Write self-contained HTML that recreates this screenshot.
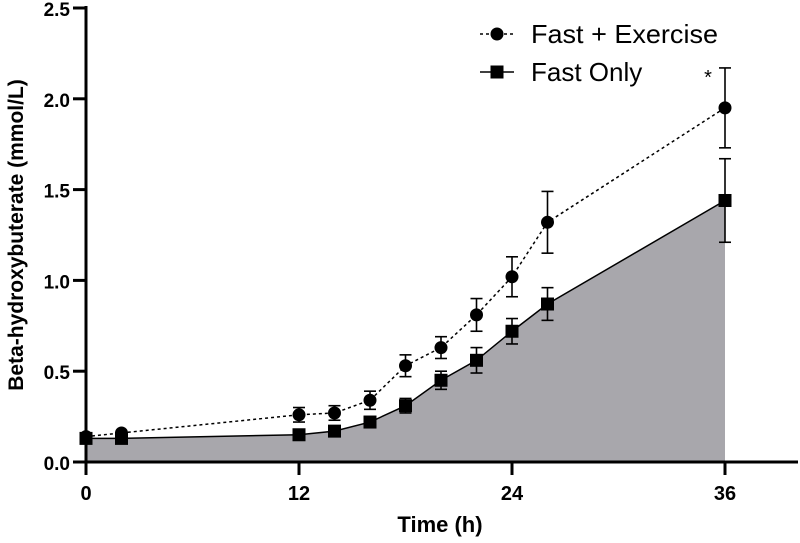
<!DOCTYPE html>
<html><head><meta charset="utf-8"><style>
body{margin:0;background:#fff;}
svg{display:block;font-family:"Liberation Sans",sans-serif;}
</style></head><body>
<svg id="chart" width="800" height="543" viewBox="0 0 800 543" xmlns="http://www.w3.org/2000/svg">
<g id="plot"></g>
</svg>
<script>
const times=[0,2,12,14,16,18,20,22,24,26,36];
const exerciseMean=[0.14,0.16,0.26,0.27,0.34,0.53,0.63,0.81,1.02,1.32,1.95];
const exerciseErr=[0.02,0.02,0.04,0.04,0.05,0.06,0.06,0.09,0.11,0.17,0.22];
const fastMean=[0.13,0.13,0.15,0.17,0.22,0.31,0.45,0.56,0.72,0.87,1.44];
const fastErr=[0.01,0.01,0.02,0.02,0.03,0.04,0.05,0.07,0.07,0.09,0.23];
const xTicks=[0,12,24,36];
const yTicks=[0,0.5,1.0,1.5,2.0,2.5];
const yTickLabels=["0.0","0.5","1.0","1.5","2.0","2.5"];

const NS="http://www.w3.org/2000/svg";
const g=document.getElementById('plot');
const X=t=>86+t*(725-86)/36;
const Y=v=>462-v*(462-8)/2.5;
function mk(tag,attrs,parent){const e=document.createElementNS(NS,tag);for(const k in attrs)e.setAttribute(k,attrs[k]);(parent||g).appendChild(e);return e;}

let d='M'+X(times[0])+','+Y(0);
times.forEach((t,i)=>d+=' L'+X(t)+','+Y(fastMean[i]));
d+=' L'+X(times[times.length-1])+','+Y(0)+' Z';
const area=mk('path',{d:d,fill:'#a8a7ac'});



const ya=mk('line',{x1:86,y1:6,x2:86,y2:464,stroke:'#000','stroke-width':3});


const xa=mk('line',{x1:84,y1:462,x2:798,y2:462,stroke:'#000','stroke-width':3});


yTicks.forEach((v,i)=>{
  mk('line',{x1:73,y1:Y(v),x2:86,y2:Y(v),stroke:'#000','stroke-width':3});
  const t=mk('text',{x:70,y:Y(v)+8,'text-anchor':'end','font-size':19,'font-weight':'bold'});
  t.textContent=yTickLabels[i];
  
  
});
xTicks.forEach(v=>{
  mk('line',{x1:X(v),y1:462,x2:X(v),y2:475,stroke:'#000','stroke-width':3});
  const t=mk('text',{x:X(v),y:500,'text-anchor':'middle','font-size':20,'font-weight':'bold'});
  t.textContent=v;
  
  
});
const xt=mk('text',{x:440,y:532,'text-anchor':'middle','font-size':22,'font-weight':'bold'});
xt.textContent='Time (h)';


const yt=mk('text',{x:0,y:0,'text-anchor':'middle','font-size':21,'font-weight':'bold',transform:'translate(23,235) rotate(-90)'});
yt.textContent='Beta-hydroxybuterate (mmol/L)';



let pf='',pe='';
times.forEach((t,i)=>{pf+=(i?' L':'M')+X(t)+','+Y(fastMean[i]);pe+=(i?' L':'M')+X(t)+','+Y(exerciseMean[i]);});
const lf=mk('path',{d:pf,fill:'none',stroke:'#000','stroke-width':1.5});


const le=mk('path',{d:pe,fill:'none',stroke:'#000','stroke-width':1.5,'stroke-dasharray':'3,3'});



function errbar(t,m,e,name){
  const x=X(t);
  const eg=mk('g',{stroke:'#000','stroke-width':1.6});
  
  
  mk('line',{x1:x,y1:Y(m-e),x2:x,y2:Y(m+e)},eg);
  mk('line',{x1:x-6,y1:Y(m+e),x2:x+6,y2:Y(m+e)},eg);
  mk('line',{x1:x-6,y1:Y(m-e),x2:x+6,y2:Y(m-e)},eg);
}
times.forEach((t,i)=>{
  if(i>=2){errbar(t,exerciseMean[i],exerciseErr[i],'fast-exercise-error-bar');errbar(t,fastMean[i],fastErr[i],'fast-only-error-bar');}
});
times.forEach((t,i)=>{
  const c=mk('circle',{cx:X(t),cy:Y(exerciseMean[i]),r:6.5,fill:'#000'});
  
  
  const s=mk('rect',{x:X(t)-6.5,y:Y(fastMean[i])-6.5,width:13,height:13,fill:'#000'});
  
  
});
const star=mk('text',{x:708,y:84,'text-anchor':'middle','font-size':20});
star.textContent='*';



const lg=mk('g',{});


mk('line',{x1:480,y1:34,x2:514,y2:34,stroke:'#000','stroke-width':1.5,'stroke-dasharray':'3,3'},lg);
mk('circle',{cx:497,cy:34,r:6.5,fill:'#000'},lg);
const l1=mk('text',{x:531,y:43,'font-size':26,textLength:187,lengthAdjust:'spacingAndGlyphs'},lg);
l1.textContent='Fast + Exercise';


mk('line',{x1:480,y1:72,x2:514,y2:72,stroke:'#000','stroke-width':1.5},lg);
mk('rect',{x:490.5,y:65.5,width:13,height:13,fill:'#000'},lg);
const l2=mk('text',{x:531,y:81,'font-size':26},lg);
l2.textContent='Fast Only';


</script>
</body></html>
